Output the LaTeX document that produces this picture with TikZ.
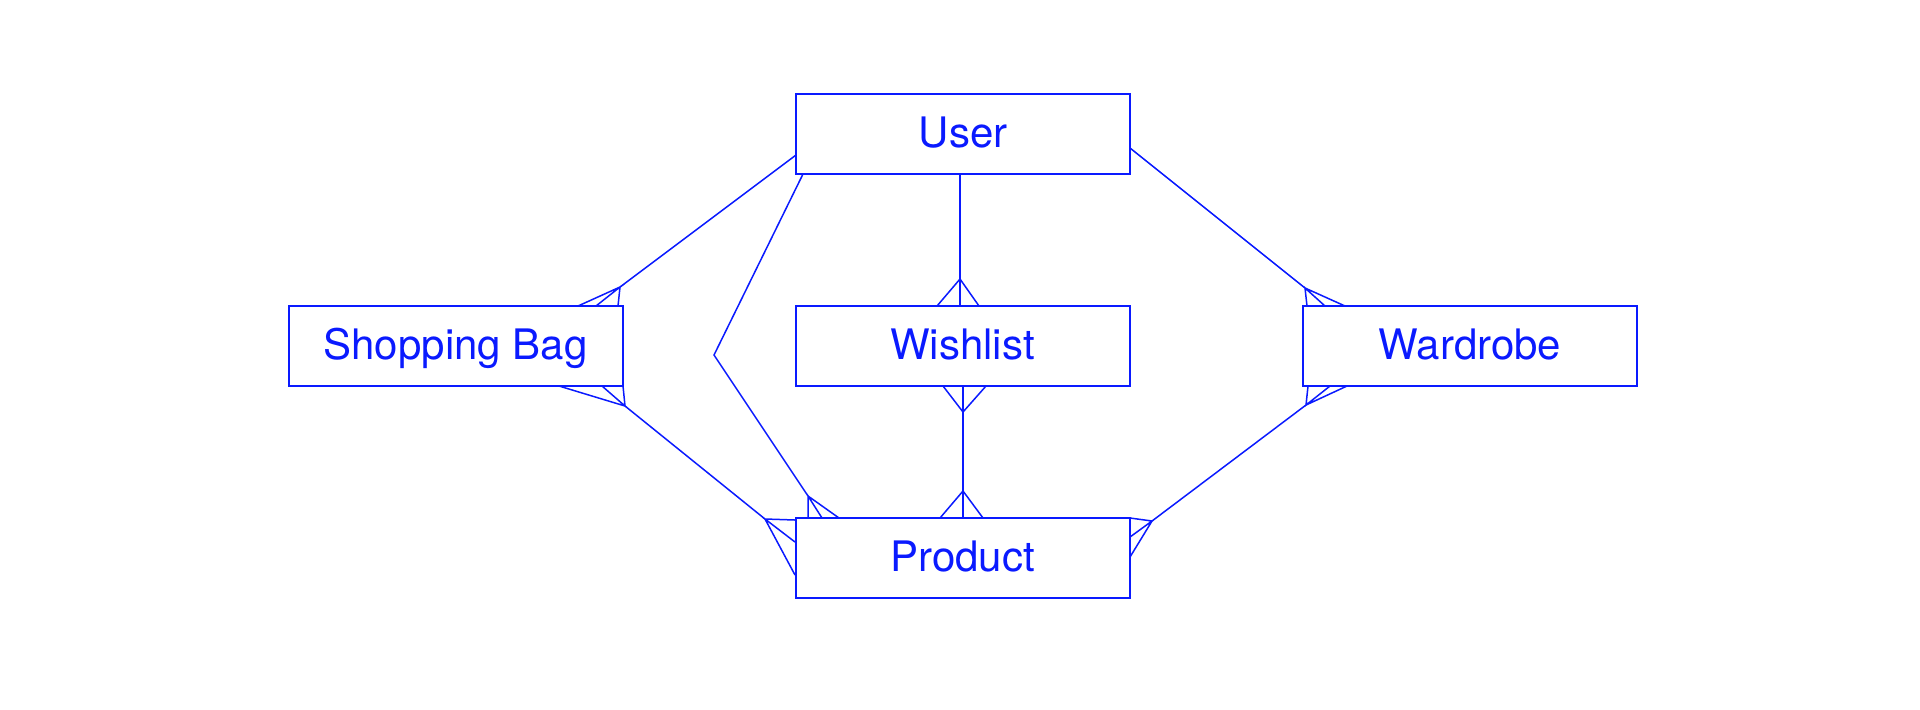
\documentclass[tikz,border=0pt]{standalone}
\usepackage{fontspec}
\setmainfont{TeX Gyre Heros}
\definecolor{erblue}{RGB}{10,26,255}
\begin{document}
\begin{tikzpicture}[x=0.5pt,y=-0.5pt,
  box/.style={draw=erblue,line width=1pt,minimum width=167pt,minimum height=40pt,inner sep=0pt,text=erblue,text height=17pt,text depth=3.5pt,font=\fontsize{21}{25}\selectfont},
  link/.style={draw=erblue,line width=0.75pt,line join=miter},
  prong/.style={draw=erblue,line width=0.75pt}]
\useasboundingbox (0,0) rectangle (1920,709);
% entities
\node[box] (user) at (963,134) {User};
\node[box] (bag)  at (455.5,346) {Shopping Bag};
\node[box] (wish) at (962.5,346) {Wishlist};
\node[box] (ward) at (1470,346) {Wardrobe};
\node[box] (prod) at (962.5,558) {Product};
% junction coordinates
\coordinate (jub) at (620,287);
\coordinate (jbu) at (625,406);
\coordinate (jbp) at (765,519);
\coordinate (bend) at (714,355);
\coordinate (jup) at (808,496);
\coordinate (juw) at (960,279);
\coordinate (jwp1) at (963,412);
\coordinate (jwp2) at (963,491);
\coordinate (juwd) at (1305,288);
\coordinate (jwdp1) at (1306,405);
\coordinate (jwdp2) at (1152,521);
% User - Shopping Bag
\draw[link] (796,155) -- (jub);
\draw[prong] (578,306) -- (jub) -- (596,306) (jub) -- (618,306);
% Shopping Bag - Product
\draw[prong] (559,386) -- (jbu) -- (602,386) (jbu) -- (623,386);
\draw[link] (jbu) -- (jbp);
\draw[prong] (795,520) -- (jbp) -- (795,542) (jbp) -- (795,575);
% User - Product
\draw[link] (803,174) -- (bend) -- (jup);
\draw[prong] (808,518) -- (jup) -- (822,518) (jup) -- (839,518);
% User - Wishlist
\draw[link] (960,174) -- (960,306);
\draw[prong] (937,306) -- (juw) -- (979,306);
% Wishlist - Product
\draw[link] (963,386) -- (963,518);
\draw[prong] (943,386) -- (jwp1) -- (986,386);
\draw[prong] (940,518) -- (jwp2) -- (983,518);
% User - Wardrobe
\draw[link] (1130,148) -- (juwd);
\draw[prong] (1307,306) -- (juwd) -- (1325,306) (juwd) -- (1345,306);
% Wardrobe - Product
\draw[prong] (1308,386) -- (jwdp1) -- (1330,386) (jwdp1) -- (1347,386);
\draw[link] (jwdp1) -- (jwdp2);
\draw[prong] (1130,518) -- (jwdp2) -- (1130,537) (jwdp2) -- (1130,557);
\end{tikzpicture}
\end{document}
